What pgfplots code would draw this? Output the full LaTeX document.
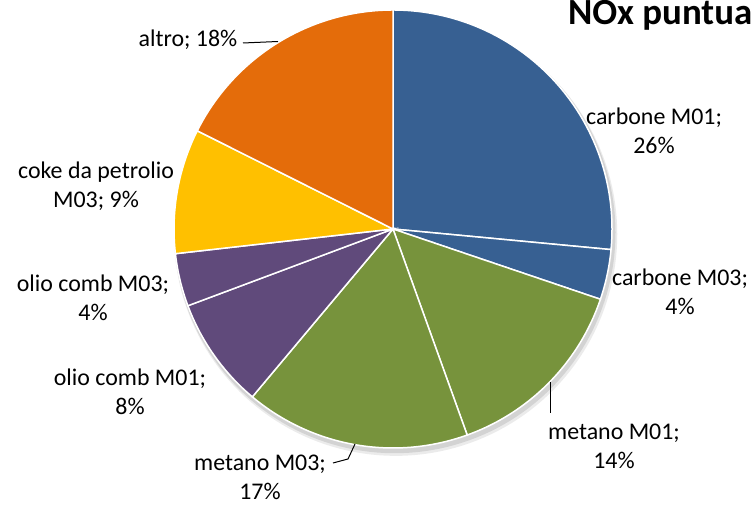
\documentclass[border=0pt]{standalone}
\usepackage{pgfplots}
\pgfplotsset{compat=1.18}
\usepackage{fontspec}
\setmainfont{Carlito}
\definecolor{cblue}{HTML}{376092}
\definecolor{cgreen}{HTML}{77933C}
\definecolor{cpurple}{HTML}{604A7B}
\definecolor{cyellow}{HTML}{FFC000}
\definecolor{corange}{HTML}{E46C0A}
% shares (percent), clockwise from 12 o'clock
\def\pA{26.5}% carbone M01
\def\pB{3.7}%  carbone M03
\def\pC{14.3}% metano M01
\def\pD{16.6}% metano M03
\def\pE{8.2}%  olio comb M01
\def\pF{3.9}%  olio comb M03
\def\pG{9.2}%  coke da petrolio M03
\def\pH{17.6}% altro
\pgfmathsetmacro\aO{90}
\pgfmathsetmacro\aA{\aO-3.6*\pA}
\pgfmathsetmacro\aB{\aA-3.6*\pB}
\pgfmathsetmacro\aC{\aB-3.6*\pC}
\pgfmathsetmacro\aD{\aC-3.6*\pD}
\pgfmathsetmacro\aE{\aD-3.6*\pE}
\pgfmathsetmacro\aF{\aE-3.6*\pF}
\pgfmathsetmacro\aG{\aF-3.6*\pG}
\pgfmathsetmacro\aH{\aG-3.6*\pH}
\newcommand\lbl{\fontsize{24}{29}\selectfont}
\begin{document}
\begin{tikzpicture}[x=1bp,y=1bp]
\begin{axis}[hide axis, x=219bp, y=219bp,
  xmin=-1.7945, xmax=1.6438, ymin=-1.2603, ymax=1.0457,
  at={(0,0)}, anchor=south west, clip=false]
\addplot[draw=none, fill=black, fill opacity=0.10, domain=0:360, samples=180, variable=\t]
  ({0.008+1.008*cos(\t)},{-0.016+1.008*sin(\t)}) -- cycle;
\addplot[draw=none, fill=black, fill opacity=0.08, domain=0:360, samples=180, variable=\t]
  ({0.012+1.012*cos(\t)},{-0.024+1.012*sin(\t)}) -- cycle;
\addplot[fill=cblue, draw=white, line width=1.5bp, domain=\aA:\aO, samples=90, variable=\t]
  ({cos(\t)},{sin(\t)}) -- (axis cs:0,0) -- cycle;
\addplot[fill=cblue, draw=white, line width=1.5bp, domain=\aB:\aA, samples=20, variable=\t]
  ({cos(\t)},{sin(\t)}) -- (axis cs:0,0) -- cycle;
\addplot[fill=cgreen, draw=white, line width=1.5bp, domain=\aC:\aB, samples=60, variable=\t]
  ({cos(\t)},{sin(\t)}) -- (axis cs:0,0) -- cycle;
\addplot[fill=cgreen, draw=white, line width=1.5bp, domain=\aD:\aC, samples=60, variable=\t]
  ({cos(\t)},{sin(\t)}) -- (axis cs:0,0) -- cycle;
\addplot[fill=cpurple, draw=white, line width=1.5bp, domain=\aE:\aD, samples=40, variable=\t]
  ({cos(\t)},{sin(\t)}) -- (axis cs:0,0) -- cycle;
\addplot[fill=cpurple, draw=white, line width=1.5bp, domain=\aF:\aE, samples=20, variable=\t]
  ({cos(\t)},{sin(\t)}) -- (axis cs:0,0) -- cycle;
\addplot[fill=cyellow, draw=white, line width=1.5bp, domain=\aG:\aF, samples=40, variable=\t]
  ({cos(\t)},{sin(\t)}) -- (axis cs:0,0) -- cycle;
\addplot[fill=corange, draw=white, line width=1.5bp, domain=\aH:\aG, samples=60, variable=\t]
  ({cos(\t)},{sin(\t)}) -- (axis cs:0,0) -- cycle;
\end{axis}
% labels
\node[align=center, font=\lbl] at (654,374) {carbone M01;\\26\%};
\node[align=center, font=\lbl] at (680,213) {carbone M03;\\4\%};
\node[align=center, font=\lbl] at (614,59) {metano M01;\\14\%};
\node[align=center, font=\lbl] at (260,28) {metano M03;\\17\%};
\node[align=center, font=\lbl] at (130,113) {olio comb M01;\\8\%};
\node[align=center, font=\lbl] at (93,207) {olio comb M03;\\4\%};
\node[align=center, font=\lbl] at (96,319) {coke da petrolio\\M03; 9\%};
\node[font=\lbl] at (188,465) {altro; 18\%};
% leader lines
\draw[line width=1bp] (243,462) -- (278,463.5);
\draw[line width=1bp] (550,123) -- (550,92);
\draw[line width=1bp] (333,42) -- (348,46) -- (355,61);
% title (cut at the right edge as in the source)
\node[anchor=base west, font=\bfseries\fontsize{37}{44}\selectfont, inner sep=0pt] at (568,480.5) {NOx puntuali};
\pgfresetboundingbox
\useasboundingbox (0,0) rectangle (753,505);
\end{tikzpicture}
\end{document}
